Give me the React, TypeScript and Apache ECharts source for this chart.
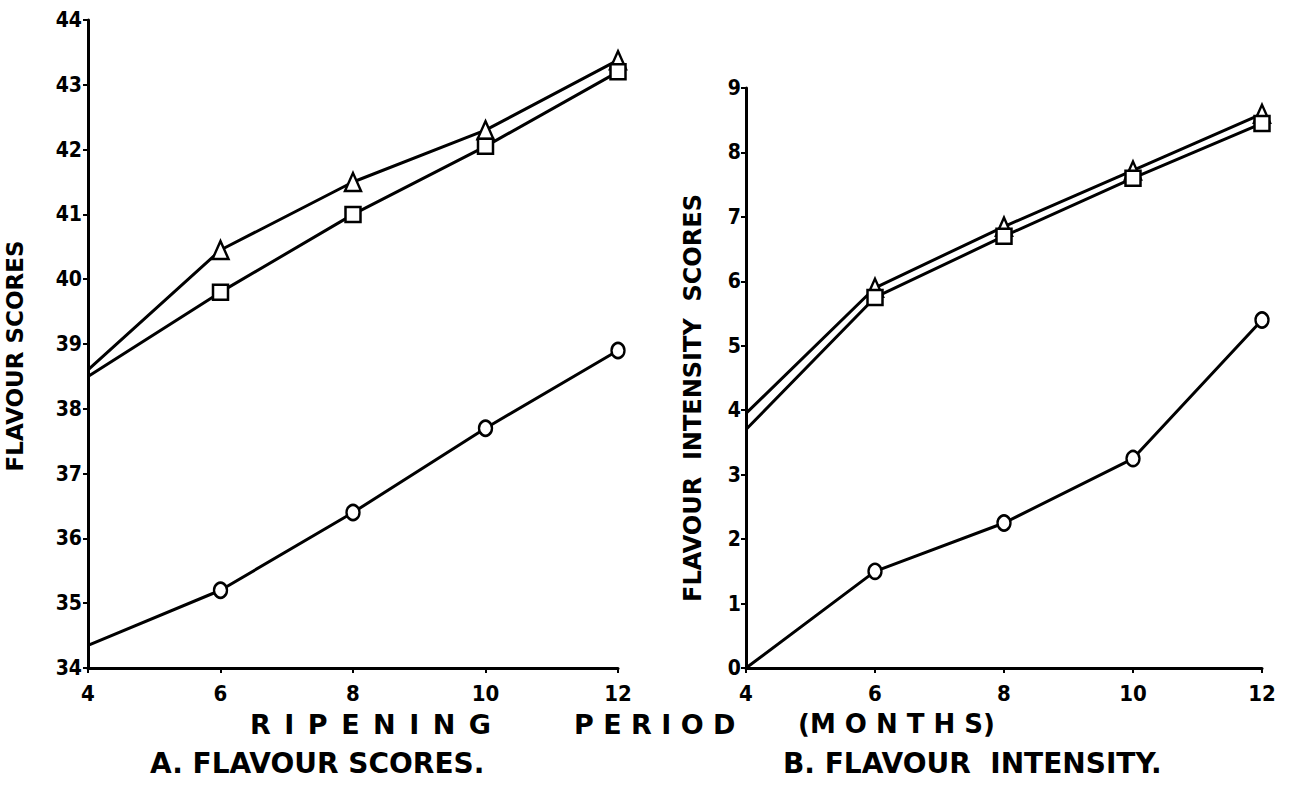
import React, { useEffect, useRef } from "react";
import * as echarts from "echarts";

const months = [4, 6, 8, 10, 12];
const xTicks = [4, 6, 8, 10, 12];

// A. Flavour scores
const scoreTriangle = [38.6, 40.45, 41.5, 42.3, 43.38];
const scoreSquare = [38.5, 39.8, 41.0, 42.05, 43.2];
const scoreCircle = [34.35, 35.2, 36.4, 37.7, 38.9];

// B. Flavour intensity
const intensityTriangle = [3.95, 5.9, 6.85, 7.72, 8.6];
const intensitySquare = [3.7, 5.75, 6.7, 7.6, 8.45];
const intensityCircle = [0, 1.5, 2.25, 3.25, 5.4];

const xTitleParts = ["R\u2002I\u2002P\u2002E\u2002N\u2002I\u2002N\u2002G", "P E R I O D", "(M O N T H S)"];
const panelTitles = ["A. FLAVOUR SCORES.", "B. FLAVOUR \u00a0INTENSITY."];
const yNames = ["FLAVOUR SCORES", "FLAVOUR \u00a0INTENSITY \u00a0SCORES"];

const FONT = "'Liberation Sans Narrow', 'DejaVu Sans Condensed', 'DejaVu Sans', sans-serif";
const TFONT = "'DejaVu Sans', sans-serif";

function pairs(ys: number[]) {
  // the first point (4 months) starts on the axis without a marker
  return months.map((m, i) =>
    i === 0 ? { value: [m, ys[i]], symbol: "none" } : { value: [m, ys[i]] }
  );
}

function lineSeries(idx: number, ys: number[], symbol: string, size: number | number[]) {
  return {
    type: "line",
    xAxisIndex: idx,
    yAxisIndex: idx,
    data: pairs(ys),
    symbol,
    symbolSize: size,
    showSymbol: true,
    lineStyle: { color: "#000", width: 3 },
    itemStyle: { color: "#fff", borderColor: "#000", borderWidth: 2.5 },
    z: 3,
  };
}

function axisCommon() {
  return {
    axisLine: { show: true, lineStyle: { color: "#000", width: 3 } },
    axisTick: { show: true, length: 5, lineStyle: { color: "#000", width: 2 } },
    splitLine: { show: false },
  };
}

function txt(x: number, y: number, text: string, size: number) {
  return {
    type: "text",
    left: x,
    top: y,
    style: { text, fontSize: size, fontWeight: "bold", fontFamily: TFONT, fill: "#000" },
  };
}

function vtxt(x: number, y: number, text: string, size: number) {
  return {
    type: "text",
    x,
    y,
    rotation: Math.PI / 2,
    style: {
      text,
      fontSize: size,
      fontWeight: "bold",
      fontFamily: TFONT,
      fill: "#000",
      align: "center",
      verticalAlign: "middle",
    },
  };
}

export default function App() {
  const ref = useRef<HTMLDivElement>(null);
  useEffect(() => {
    if (!ref.current) return;
    const chart = echarts.init(ref.current, null, { renderer: "svg" });
    const xLabelStyle = { color: "#000", fontSize: 22, fontWeight: "bold", fontFamily: FONT };
    const yLabelStyle = { color: "#000", fontSize: 21, fontWeight: "bold", fontFamily: FONT };
    chart.setOption({
      animation: false,
      backgroundColor: "#fff",
      grid: [
        { left: 88, top: 20, width: 530, height: 648 },
        { left: 746, top: 88, width: 516, height: 580 },
      ],
      xAxis: [0, 1].map((i) => ({
        type: "value",
        gridIndex: i,
        min: xTicks[0],
        max: xTicks[xTicks.length - 1],
        interval: 2,
        ...axisCommon(),
        axisLabel: { ...xLabelStyle, margin: 14 },
      })),
      yAxis: [
        {
          type: "value",
          gridIndex: 0,
          min: 34,
          max: 44,
          interval: 1,
          ...axisCommon(),
          axisLabel: { ...yLabelStyle, margin: 6 },
        },
        {
          type: "value",
          gridIndex: 1,
          min: 0,
          max: 9,
          interval: 1,
          ...axisCommon(),
          axisLabel: { ...yLabelStyle, margin: 5 },
        },
      ],
      series: [
        lineSeries(0, scoreTriangle, "triangle", [16, 18]),
        lineSeries(0, scoreSquare, "rect", [15, 15]),
        lineSeries(0, scoreCircle, "circle", [13, 15]),
        lineSeries(1, intensityTriangle, "triangle", [16, 18]),
        lineSeries(1, intensitySquare, "rect", [15, 15]),
        lineSeries(1, intensityCircle, "circle", [13, 15]),
      ],
      graphic: [
        txt(250, 711, xTitleParts[0], 27),
        txt(574, 711, xTitleParts[1], 27),
        txt(798, 711, xTitleParts[2], 26),
        txt(150, 749, panelTitles[0], 28),
        txt(783, 749, panelTitles[1], 28),
        vtxt(15, 356, yNames[0], 23),
        vtxt(693, 398, yNames[1], 24),
      ],
    });
    return () => chart.dispose();
  }, []);
  return (
    <div
      ref={ref}
      style={{ position: "fixed", left: 0, top: 0, width: 1303, height: 787, background: "#fff" }}
    />
  );
}
